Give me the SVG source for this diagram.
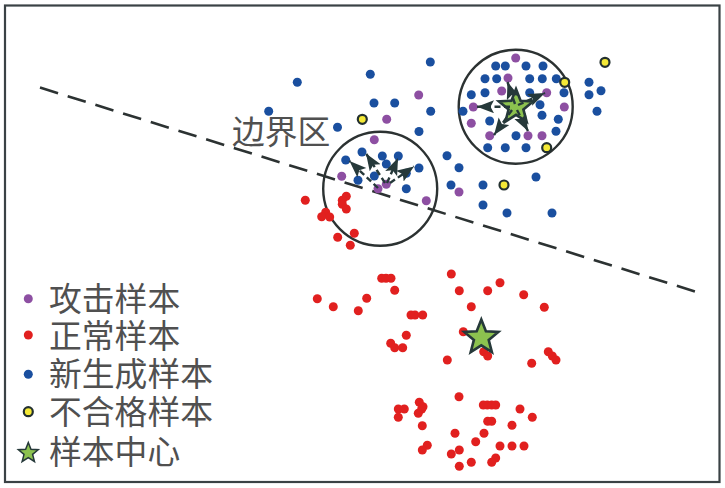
<svg xmlns="http://www.w3.org/2000/svg" xmlns:xlink="http://www.w3.org/1999/xlink" width="725" height="488" viewBox="0 0 725 488">
<style>
.t{font-family:"Liberation Sans","Noto Sans CJK SC","Noto Sans CJK JP",sans-serif;font-size:32.8px;fill:#505050;font-weight:400}
.p{fill:#8d4fa2}.r{fill:#e1201f}.b{fill:#1a4f9f}.y{fill:#f4e936;stroke:#23302f;stroke-width:2.2}
.p circle,.r circle,.b circle,circle.p,circle.r,circle.b{r:4.5px}
.y circle,circle.y{r:4.5px}
.s{fill:#8cc24f;stroke:#26393a;stroke-width:2.6;stroke-linejoin:miter}
.c{fill:none;stroke:#2c3232;stroke-width:2.4}
.a{stroke:#26393a;stroke-width:2.4;stroke-dasharray:6 3.5;fill:none;marker-end:url(#h)}
</style>
<defs>
<marker id="h" markerUnits="userSpaceOnUse" markerWidth="19" markerHeight="14" refX="17" refY="6.5" orient="auto"><path d="M0 0L17 6.5L0 13L3.5 6.5Z" fill="#26393a"/></marker>
<polygon id="star" points="0,-18 4.6,-6.3 17.1,-5.6 7.4,2.4 10.6,14.6 0,7.8 -10.6,14.6 -7.4,2.4 -17.1,-5.6 -4.6,-6.3"/>
</defs>
<rect width="725" height="488" fill="#fff"/>
<rect id="frame" x="5" y="5.5" width="714.5" height="476.5" fill="none" stroke="#3a4245" stroke-width="2.2"/>
<g id="boundary"><line x1="40" y1="87.6" x2="696.7" y2="292" stroke="#2c3232" stroke-width="2.6" stroke-dasharray="18.9 10.1"/></g>
<g id="circles"><circle class="c" cx="515.7" cy="106.7" r="57"/><circle class="c" cx="380.2" cy="188.8" r="57"/></g>
<g id="normal-samples" class="r">
<circle cx="305.3" cy="200.3" r="4.5"/><circle cx="346.3" cy="196.3" r="4.5"/><circle cx="342.3" cy="200.3" r="4.5"/><circle cx="342.3" cy="204.3" r="4.5"/><circle cx="346.3" cy="209" r="4.5"/><circle cx="325.7" cy="212.3" r="4.5"/><circle cx="321.7" cy="216.7" r="4.5"/><circle cx="329.7" cy="217" r="4.5"/><circle cx="354.3" cy="233.3" r="4.5"/><circle cx="337.7" cy="237.3" r="4.5"/><circle cx="350.3" cy="245.3" r="4.5"/>
<circle cx="381.7" cy="278.3" r="4.5"/><circle cx="386" cy="278.3" r="4.5"/><circle cx="391" cy="278.3" r="4.5"/><circle cx="394.7" cy="290.3" r="4.5"/><circle cx="366.7" cy="298.3" r="4.5"/><circle cx="317.3" cy="298.7" r="4.5"/><circle cx="333.3" cy="306.7" r="4.5"/><circle cx="358.3" cy="310.7" r="4.5"/><circle cx="411" cy="315" r="4.5"/><circle cx="415" cy="315" r="4.5"/><circle cx="422.7" cy="315" r="4.5"/><circle cx="406.3" cy="335.3" r="4.5"/><circle cx="390.7" cy="343.3" r="4.5"/><circle cx="394.7" cy="347.7" r="4.5"/><circle cx="402.7" cy="347.7" r="4.5"/>
<circle cx="451.3" cy="274" r="4.5"/><circle cx="459.3" cy="290.7" r="4.5"/><circle cx="487.7" cy="290.7" r="4.5"/><circle cx="500" cy="282.7" r="4.5"/><circle cx="523.7" cy="294.7" r="4.5"/><circle cx="544.3" cy="307.3" r="4.5"/><circle cx="471.3" cy="306.7" r="4.5"/><circle cx="463.3" cy="331.7" r="4.5"/><circle cx="483.7" cy="351.7" r="4.5"/><circle cx="487.7" cy="356" r="4.5"/><circle cx="447.3" cy="360" r="4.5"/><circle cx="531.7" cy="363.3" r="4.5"/><circle cx="548.3" cy="351.7" r="4.5"/><circle cx="552.3" cy="356" r="4.5"/><circle cx="556" cy="360" r="4.5"/>
<circle cx="459" cy="396.7" r="4.5"/><circle cx="483.3" cy="405" r="4.5"/><circle cx="487.3" cy="405" r="4.5"/><circle cx="491.7" cy="405" r="4.5"/><circle cx="495.7" cy="405" r="4.5"/><circle cx="520" cy="409" r="4.5"/><circle cx="532.3" cy="417.3" r="4.5"/><circle cx="487.7" cy="421.3" r="4.5"/><circle cx="491.7" cy="421.3" r="4.5"/><circle cx="512" cy="425.3" r="4.5"/><circle cx="455" cy="433.3" r="4.5"/><circle cx="484" cy="433.3" r="4.5"/><circle cx="475.7" cy="441.7" r="4.5"/><circle cx="500" cy="446" r="4.5"/><circle cx="512" cy="446" r="4.5"/><circle cx="524" cy="446" r="4.5"/><circle cx="459.3" cy="450" r="4.5"/><circle cx="451.3" cy="454" r="4.5"/><circle cx="471.3" cy="462.3" r="4.5"/><circle cx="459.3" cy="466.3" r="4.5"/><circle cx="495.7" cy="458" r="4.5"/><circle cx="491.7" cy="462.3" r="4.5"/>
<circle cx="398.3" cy="409" r="4.5"/><circle cx="404.3" cy="409" r="4.5"/><circle cx="398.3" cy="417.3" r="4.5"/><circle cx="419.3" cy="402.3" r="4.5"/><circle cx="423" cy="406.7" r="4.5"/><circle cx="421.7" cy="409" r="4.5"/><circle cx="418.3" cy="413.3" r="4.5"/><circle cx="422.3" cy="425.7" r="4.5"/><circle cx="427.3" cy="445.3" r="4.5"/><circle cx="422.3" cy="450" r="4.5"/>
</g>
<g id="generated-samples" class="b">
<circle cx="495.7" cy="66" r="4.5"/><circle cx="505.3" cy="66" r="4.5"/><circle cx="526" cy="66" r="4.5"/><circle cx="543" cy="66" r="4.5"/><circle cx="485" cy="78.7" r="4.5"/><circle cx="496.7" cy="78.7" r="4.5"/><circle cx="529.7" cy="78.7" r="4.5"/><circle cx="542.3" cy="78.7" r="4.5"/><circle cx="556.3" cy="78.7" r="4.5"/><circle cx="471.3" cy="94.7" r="4.5"/><circle cx="485" cy="92.7" r="4.5"/><circle cx="529.7" cy="92.7" r="4.5"/><circle cx="564" cy="92.7" r="4.5"/><circle cx="540" cy="104.7" r="4.5"/><circle cx="463" cy="111.3" r="4.5"/><circle cx="542" cy="115.3" r="4.5"/><circle cx="558.3" cy="119.3" r="4.5"/><circle cx="489.7" cy="121" r="4.5"/><circle cx="556" cy="131.3" r="4.5"/><circle cx="516" cy="135.7" r="4.5"/><circle cx="487.7" cy="147.7" r="4.5"/><circle cx="505.3" cy="147.7" r="4.5"/><circle cx="526" cy="147.7" r="4.5"/>
<circle cx="589" cy="82.3" r="4.5"/><circle cx="601" cy="90.7" r="4.5"/><circle cx="589" cy="94.7" r="4.5"/><circle cx="597" cy="111.3" r="4.5"/><circle cx="447" cy="155.7" r="4.5"/><circle cx="459" cy="167.7" r="4.5"/><circle cx="451" cy="185" r="4.5"/><circle cx="483" cy="185" r="4.5"/><circle cx="536" cy="177" r="4.5"/><circle cx="483" cy="205" r="4.5"/><circle cx="507" cy="213" r="4.5"/><circle cx="552" cy="213" r="4.5"/>
<circle cx="430.3" cy="62" r="4.5"/><circle cx="370.3" cy="74.3" r="4.5"/><circle cx="297.3" cy="82.3" r="4.5"/><circle cx="374" cy="103" r="4.5"/><circle cx="394.7" cy="103" r="4.5"/><circle cx="430.7" cy="111.3" r="4.5"/><circle cx="268.7" cy="111.3" r="4.5"/><circle cx="337.5" cy="127.3" r="4.5"/><circle cx="419" cy="131.5" r="4.5"/>
<circle cx="362" cy="152" r="4.5"/><circle cx="382.3" cy="156" r="4.5"/><circle cx="398.3" cy="156" r="4.5"/><circle cx="345.7" cy="160" r="4.5"/><circle cx="386.3" cy="164" r="4.5"/><circle cx="419" cy="168" r="4.5"/><circle cx="406.3" cy="173.3" r="4.5"/><circle cx="374.3" cy="176" r="4.5"/><circle cx="358" cy="180.3" r="4.5"/><circle cx="406.3" cy="188.7" r="4.5"/>
</g>
<g id="attack-samples" class="p">
<circle cx="515.7" cy="58" r="4.5"/><circle cx="508" cy="78" r="4.5"/><circle cx="501.7" cy="91" r="4.5"/><circle cx="546.7" cy="92.7" r="4.5"/><circle cx="473.3" cy="107" r="4.5"/><circle cx="564.3" cy="107" r="4.5"/><circle cx="471.3" cy="123.3" r="4.5"/><circle cx="489.7" cy="135.7" r="4.5"/><circle cx="528" cy="135.7" r="4.5"/><circle cx="542" cy="135.7" r="4.5"/>
<circle cx="418.7" cy="95" r="4.5"/><circle cx="386.7" cy="119.3" r="4.5"/><circle cx="374.3" cy="139.7" r="4.5"/><circle cx="341.7" cy="176.3" r="4.5"/><circle cx="386.3" cy="184.3" r="4.5"/><circle cx="378" cy="188.7" r="4.5"/><circle cx="426.3" cy="200.7" r="4.5"/><circle cx="459" cy="192" r="4.5"/>
</g>
<g id="rejected-samples" class="y">
<circle cx="564.7" cy="82.3" r="4.5"/><circle cx="546.7" cy="147.7" r="4.5"/><circle cx="605" cy="62.3" r="4.5"/><circle cx="362.3" cy="119.3" r="4.5"/><circle cx="504" cy="185" r="4.5"/>
</g>
<g id="centers"><use xlink:href="#star" href="#star" class="s" x="516" y="107"/><use xlink:href="#star" href="#star" class="s" x="481.3" y="337.5"/></g>
<g id="connectors">
<line class="a" x1="510" y1="106.7" x2="477" y2="106.7"/><line class="a" x1="512" y1="110" x2="494" y2="135"/><line class="a" x1="515" y1="104" x2="507.5" y2="82"/><line class="a" x1="518" y1="105" x2="545" y2="93"/><line class="a" x1="517" y1="110" x2="528" y2="131"/>
<line class="a" x1="378" y1="188" x2="349.5" y2="161"/><line class="a" x1="385" y1="183" x2="366" y2="153.5"/><line class="a" x1="387" y1="183" x2="398" y2="158"/><line class="a" x1="390" y1="183" x2="414" y2="166.5"/>
</g>
<g id="label-boundary"><text class="t" x="232" y="144">边界区</text></g>
<g id="legend">
<circle class="p" cx="28.3" cy="298.7" r="4.5"/><text class="t" x="49" y="311">攻击样本</text>
<circle class="r" cx="28.3" cy="335" r="4.5"/><text class="t" x="49" y="348">正常样本</text>
<circle class="b" cx="28.3" cy="374.3" r="4.5"/><text class="t" x="49" y="386">新生成样本</text>
<circle class="y" cx="28.3" cy="411.7" r="4.5"/><text class="t" x="49" y="424">不合格样本</text>
<use xlink:href="#star" href="#star" class="s" transform="translate(28.3 453) scale(.58)"/><text class="t" x="49" y="464">样本中心</text>
</g>
</svg>
